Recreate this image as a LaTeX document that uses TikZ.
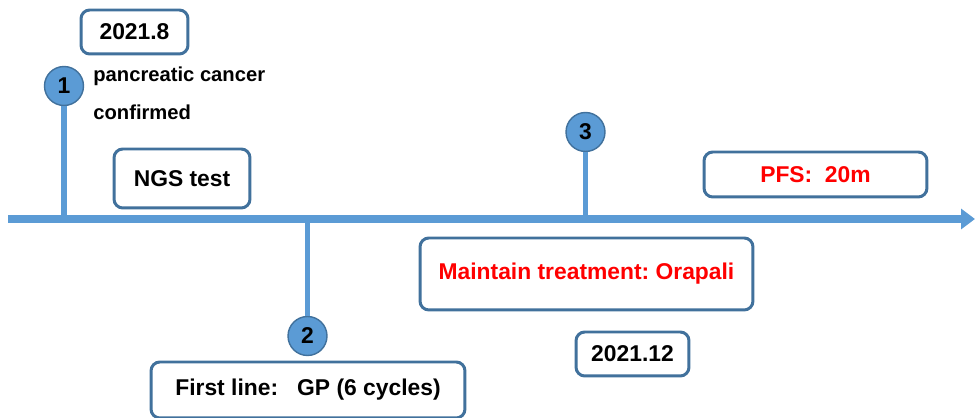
\documentclass[tikz,border=0pt]{standalone}
\usepackage{fontspec}
\setmainfont{Liberation Sans}
\frenchspacing
\usetikzlibrary{arrows.meta, positioning}
\definecolor{axisblue}{HTML}{5B9BD5}
\definecolor{frameblue}{HTML}{41719C}
\definecolor{alertred}{HTML}{FF0000}

\begin{document}
\begin{tikzpicture}[x=0.02cm, y=-0.02cm,
    tlbox/.style={draw=frameblue, line width=1.7pt, rounded corners=5pt, fill=white,
                  inner sep=0pt, font=\bfseries\fontsize{13}{15}\selectfont},
    stepdot/.style={draw=frameblue, fill=axisblue, circle, line width=0.8pt,
                    minimum size=0.78cm, inner sep=0pt, font=\bfseries\fontsize{13}{15}\selectfont},
    stem/.style={axisblue, line width=3.4pt},
    note/.style={anchor=west, inner sep=0pt, font=\bfseries\fontsize{11.5}{13}\selectfont}]
        \useasboundingbox (0,0) rectangle (975,418);

        % time axis
        \coordinate (start) at (8,219);
        \coordinate (stop) at (975,219);
        \draw [axisblue, line width=4pt, -{Triangle[length=0.28cm, width=0.4cm]}] (start) -- (stop);

        % milestones on the axis
        \coordinate (a1) at (64,219);
        \coordinate (a2) at (307.5,219);
        \coordinate (a3) at (585.5,219);

        \node[stepdot] (s1) at (64, 86) {1};
        \node[stepdot] (s2) at (307.5, 336) {2};
        \node[stepdot] (s3) at (585.5, 132) {3};

        \draw [stem] (a1) -- (s1);
        \draw [stem] (a2) -- (s2);
        \draw [stem] (a3) -- (s3);

        % labels
        \node[tlbox, minimum width=2.14cm, minimum height=0.88cm] (d1) at (134.5, 32) {2021.8};
        \node[note] (n1) at (93, 76) {pancreatic cancer};
        \node[note] (n2) at (93, 112) {confirmed};
        \node[tlbox, minimum width=2.72cm, minimum height=1.18cm] (ngs) at (182, 178.5) {NGS test};
        \node[tlbox, minimum width=6.28cm, minimum height=1.12cm] (fl) at (308, 390) {First line:\ \ \ GP (6 cycles)};
        \node[tlbox, minimum width=6.66cm, minimum height=1.44cm, text=alertred] (mt) at (586.5, 274) {Maintain treatment: Orapali};
        \node[tlbox, minimum width=2.26cm, minimum height=0.88cm] (d2) at (632.5, 354) {2021.12};
        \node[tlbox, minimum width=4.46cm, minimum height=0.9cm, text=alertred] (pfs) at (815.5, 174.5) {PFS:\ \ 20m};
\end{tikzpicture}
\end{document}
